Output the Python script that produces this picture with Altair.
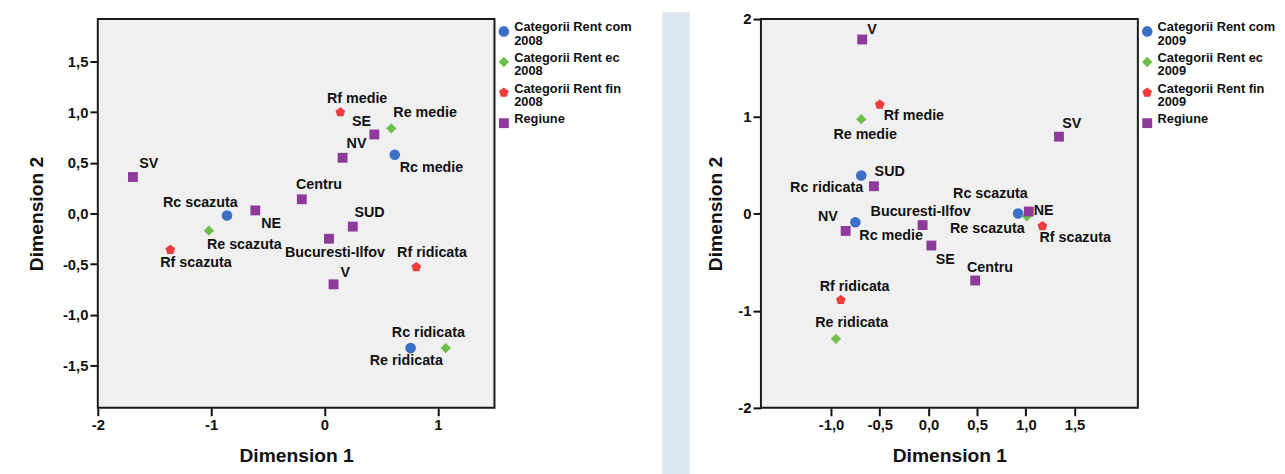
import altair as alt
import pandas as pd

# ---------------- data ----------------
point_names = ["Rc medie", "Rc ridicata", "Rc scazuta",
               "Re medie", "Re ridicata", "Re scazuta",
               "Rf medie", "Rf ridicata", "Rf scazuta",
               "Bucuresti-Ilfov", "Centru", "NE", "NV", "SE", "SUD", "SV", "V"]
point_series = [0, 0, 0, 1, 1, 1, 2, 2, 2, 3, 3, 3, 3, 3, 3, 3, 3]

legend_2008 = ["Categorii Rent com|2008", "Categorii Rent ec|2008",
               "Categorii Rent fin|2008", "Regiune"]
legend_2009 = ["Categorii Rent com|2009", "Categorii Rent ec|2009",
               "Categorii Rent fin|2009", "Regiune"]

x_2008 = [0.62, 0.76, -0.86, 0.59, 1.07, -1.02, 0.14, 0.81, -1.36,
          0.04, -0.20, -0.61, 0.16, 0.44, 0.25, -1.69, 0.08]
y_2008 = [0.58, -1.33, -0.02, 0.84, -1.33, -0.17, 1.00, -0.53, -0.36,
          -0.25, 0.14, 0.03, 0.55, 0.78, -0.13, 0.36, -0.70]

x_2009 = [-0.75, -0.69, 0.92, -0.69, -0.95, 1.01, -0.50, -0.90, 1.17,
          -0.06, 0.48, 1.03, -0.85, 0.03, -0.56, 1.34, -0.68]
y_2009 = [-0.09, 0.39, 0.00, 0.97, -1.29, -0.03, 1.12, -0.89, -0.13,
          -0.12, -0.69, 0.02, -0.18, -0.33, 0.28, 0.79, 1.79]

x_ticks_2008 = [-2, -1, 0, 1]
y_ticks_2008 = [-1.5, -1.0, -0.5, 0.0, 0.5, 1.0, 1.5]
x_ticks_2009 = [-1.0, -0.5, 0.0, 0.5, 1.0, 1.5]
y_ticks_2009 = [-2, -1, 0, 1, 2]

# ---------------- styles ----------------
COLORS = ["#3b6ec6", "#6cbf4a", "#ee3b3b", "#8e3a9b"]
PENTAGON = "M0,-1L0.951,-0.309L0.588,0.809L-0.588,0.809L-0.951,-0.309Z"
SHAPES = ["circle", "diamond", PENTAGON, "square"]
SIZES = [115, 100, 55, 85]
FONT = "Liberation Sans"

# label offsets: name -> (align, dx, dy)
labels_2008 = {
    "Rc medie": ("left", 5, 14), "Rc ridicata": ("center", 18, -15),
    "Rc scazuta": ("center", -27, -13), "Re medie": ("left", 2, -16),
    "Re ridicata": ("center", -40, 13), "Re scazuta": ("left", -2, 15),
    "Rf medie": ("center", 17, -13), "Rf ridicata": ("center", 16, -14),
    "Rf scazuta": ("center", 26, 13), "Bucuresti-Ilfov": ("center", 6, 14),
    "Centru": ("left", -6, -14), "NE": ("center", 16, 14),
    "NV": ("left", 4, -14), "SE": ("center", -13, -13),
    "SUD": ("center", 17, -14), "SV": ("center", 16, -13),
    "V": ("center", 12, -11),
}
labels_2009 = {
    "Rc medie": ("left", 4, 14), "Rc ridicata": ("right", 2, 13),
    "Rc scazuta": ("center", -28, -20), "Re medie": ("center", 4, 16),
    "Re ridicata": ("center", 16, -16), "Re scazuta": ("center", -40, 13),
    "Rf medie": ("left", 4, 12), "Rf ridicata": ("center", 14, -13),
    "Rf scazuta": ("left", -3, 12), "Bucuresti-Ilfov": ("center", -2, -13),
    "Centru": ("center", 15, -13), "NE": ("left", 5, 0),
    "NV": ("center", -18, -14), "SE": ("center", 14, 15),
    "SUD": ("center", 16, -14), "SV": ("center", 13, -13),
    "V": ("center", 10, -10),
}

FMT_INT = "replace(format(datum.value, 'd'), '\u2212', '-')"
FMT_DEC = "replace(replace(format(datum.value, '.1f'), '.', ','), '\u2212', '-')"

W1, W2, H = 402, 382, 394


def panel(xs, ys, legend_labels, label_style, xdom, ydom, xt, yt, xfmt, yfmt,
          width, y_extent, strip=None):
    df = pd.DataFrame({
        "name": point_names,
        "x": xs,
        "y": ys,
        "series": [legend_labels[i] for i in point_series],
    })
    xenc = alt.X("x:Q", title="Dimension 1",
                 scale=alt.Scale(domain=xdom, nice=False, zero=False),
                 axis=alt.Axis(values=xt, labelExpr=xfmt, titlePadding=14))
    yenc = alt.Y("y:Q", title="Dimension 2",
                 scale=alt.Scale(domain=ydom, nice=False, zero=False),
                 axis=alt.Axis(values=yt, labelExpr=yfmt, titlePadding=12,
                               minExtent=y_extent, maxExtent=y_extent))
    leg = alt.Legend(title=None, orient="none", legendX=width + 3, legendY=6,
                     labelBaseline="alphabetic",
                     labelExpr="split(datum.label, '|')")
    base = alt.Chart(df)
    points = base.mark_point(filled=True, opacity=1, strokeWidth=0).encode(
        x=xenc, y=yenc,
        color=alt.Color("series:N", scale=alt.Scale(domain=legend_labels, range=COLORS), legend=leg),
        shape=alt.Shape("series:N", scale=alt.Scale(domain=legend_labels, range=SHAPES), legend=leg),
        size=alt.Size("series:N", scale=alt.Scale(domain=legend_labels, range=SIZES), legend=leg),
    )
    layers = []
    if strip is not None:
        layers.append(
            alt.Chart(alt.Data(values=[{"k": 1}])).mark_rect(color="#dce6f1").encode(
                x=alt.value(strip[0]), x2=alt.value(strip[1]),
                y=alt.value(-7), y2=alt.value(470))
        )
    layers.append(points)
    for n in point_names:
        al, dx, dy = label_style[n]
        layers.append(
            base.transform_filter(alt.datum.name == n).mark_text(
                align=al, baseline="middle", dx=dx, dy=dy, font=FONT,
                fontSize=14.5, fontWeight="bold", color="#111111"
            ).encode(x=xenc, y=yenc, text="name:N")
        )
    return alt.layer(*layers).properties(width=width, height=H)


left = panel(x_2008, y_2008, legend_2008, labels_2008,
             [-2, 1.5], [-1.92, 1.92], x_ticks_2008, y_ticks_2008,
             FMT_INT, FMT_DEC, W1, 40)
right = panel(x_2009, y_2009, legend_2009, labels_2009,
              [-1.72, 2.15], [-2, 2], x_ticks_2009, y_ticks_2009,
              FMT_DEC, FMT_INT, W2, 24, strip=(-100, -72))

chart = alt.hconcat(left, right, spacing=28).resolve_scale(
    x="independent", y="independent", color="independent",
    shape="independent", size="independent"
).properties(
    background="white",
    padding={"left": 18, "top": 0, "right": 0, "bottom": 0},
).configure(
    style={"guide-label": {"lineHeight": 13.5}}
).configure_view(
    fill="#f0f0f0", stroke="#1a1a1a", strokeWidth=2
).configure_axis(
    labelFont=FONT, labelFontSize=15, labelFontWeight="bold", labelColor="#111111",
    tickColor="#111111", tickSize=8, tickWidth=2, labelPadding=2,
    domain=False, grid=False, labelFlush=False, labelOverlap=False,
    titleFont=FONT, titleFontSize=19.5, titleFontWeight="bold", titleColor="#111111",
).configure_legend(
    labelFont=FONT, labelFontSize=13, labelFontWeight="bold", labelColor="#111111",
    padding=0, rowPadding=4, labelOffset=4, symbolStrokeWidth=0, symbolOpacity=1,
    labelLimit=300,
)

chart.save("out.html", embed_options={"renderer": "svg", "actions": False})
